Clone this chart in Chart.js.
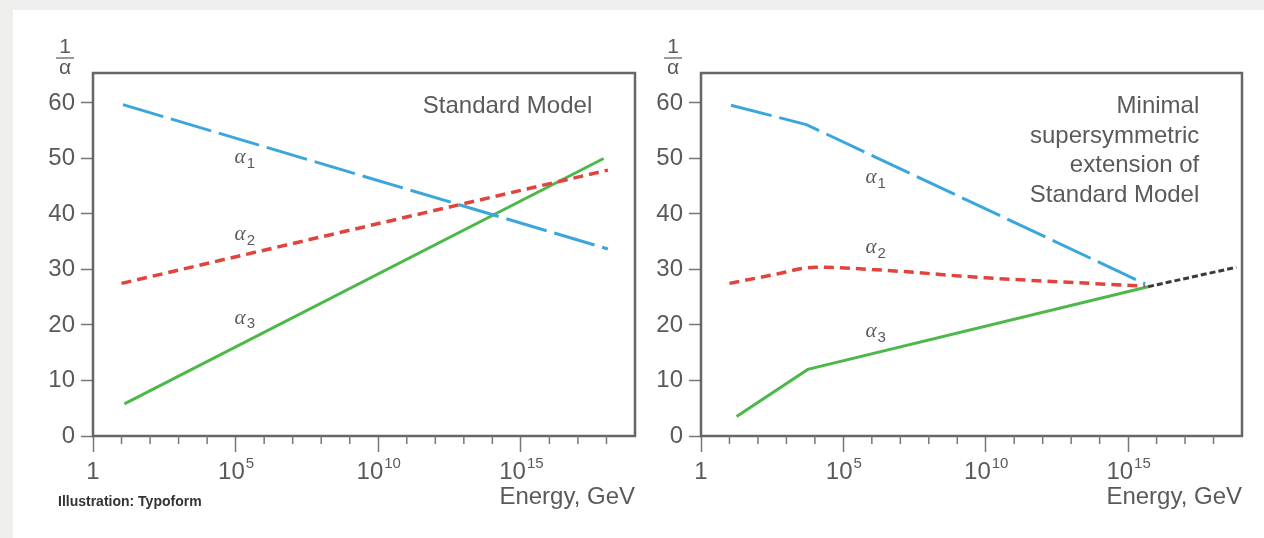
<!DOCTYPE html>
<html>
<head>
<meta charset="utf-8">
<script src="https://cdn.jsdelivr.net/npm/chart.js@4.4.0/dist/chart.umd.min.js"></script>
<style>
  html, body { margin: 0; padding: 0; background: #efefed; }
  #page { position: absolute; left: 13px; top: 10px; width: 1251px; height: 528px; background: #fff; }
  #wrapL { position: absolute; left: 0; top: 0; width: 627px; height: 528px; }
  #wrapR { position: absolute; left: 627px; top: 0; width: 624px; height: 528px; }
</style>
</head>
<body>
<div id="page">
  <div id="wrapL"><canvas id="left"></canvas></div>
  <div id="wrapR"><canvas id="right"></canvas></div>
</div>
<script>
// x values are log10(Energy / GeV), y values are 1/alpha
var tickPowers = [0, 5, 10, 15];
var tickBase = ['1', '10', '10', '10'];
var tickExp = ['', '5', '10', '15'];

// Standard Model
var smA1E = [1.05, 18.05], smA1 = [59.7, 33.7];
var smA2E = [1.0, 18.05],  smA2 = [27.5, 47.9];
var smA3E = [1.1, 17.9],   smA3 = [5.8, 50.0];

// Minimal supersymmetric extension
var ssA1E = [1.05, 3.7, 15.6], ssA1 = [59.6, 56.1, 27.4];
var ssA2E = [1.0, 2.5, 4.0, 6.0, 10.0, 15.6], ssA2 = [27.5, 29.0, 30.4, 30.0, 28.5, 27.0];
var ssA3E = [1.25, 3.75, 15.7], ssA3 = [3.5, 12.0, 26.9];
var ssExtE = [15.7, 18.8], ssExt = [26.9, 30.4];

var seriesNames = ['1', '2', '3'];

var SANS = "'Liberation Sans', Arial, sans-serif";
Chart.defaults.font.family = SANS;
Chart.defaults.color = '#5a5a5a';

function pts(xs, ys) {
  var out = [];
  for (var i = 0; i < xs.length; i++) out.push({ x: xs[i], y: ys[i] });
  return out;
}

function line(data, color, dash, width, smooth) {
  return {
    data: data,
    borderColor: color,
    borderDash: dash,
    borderWidth: width,
    pointRadius: 0,
    fill: false,
    cubicInterpolationMode: smooth ? 'monotone' : 'default',
    tension: 0
  };
}

var blue = '#3ba6dc', red = '#e0443c', green = '#4cb84a', black = '#3a3a3a';

function decor(cfg) {
  return {
    id: 'decor',
    afterDraw: function (chart) {
      var ctx = chart.ctx, a = chart.chartArea;
      var xs = chart.scales.x, ys = chart.scales.y;
      ctx.save();
      // frame
      ctx.strokeStyle = '#666';
      ctx.lineWidth = 2.5;
      ctx.strokeRect(a.left, a.top, a.right - a.left, a.bottom - a.top);
      // minor decade ticks
      ctx.lineWidth = 1.5;
      ctx.strokeStyle = '#777';
      for (var v = 1; v <= 18; v++) {
        if (v % 5 === 0) continue;
        var px = xs.getPixelForValue(v);
        ctx.beginPath();
        ctx.moveTo(px, a.bottom);
        ctx.lineTo(px, a.bottom + 8);
        ctx.stroke();
      }
      ctx.fillStyle = '#5a5a5a';
      ctx.textBaseline = 'middle';
      // x tick labels with superscript powers
      for (var k = 0; k < tickPowers.length; k++) {
        var tx = xs.getPixelForValue(tickPowers[k]);
        ctx.font = '24px ' + SANS;
        var wb = ctx.measureText(tickBase[k]).width;
        ctx.font = '15px ' + SANS;
        var we = ctx.measureText(tickExp[k]).width;
        var sx = tx - (wb + we) / 2;
        ctx.textAlign = 'left';
        ctx.font = '24px ' + SANS;
        ctx.fillText(tickBase[k], sx, a.bottom + 36);
        ctx.font = '15px ' + SANS;
        ctx.fillText(tickExp[k], sx + wb + 1, a.bottom + 28);
      }
      // 1/alpha axis label
      ctx.textAlign = 'center';
      var fx = a.left - 28;
      ctx.font = '21px ' + SANS;
      ctx.fillText('1', fx, a.top - 26);
      ctx.beginPath();
      ctx.moveTo(fx - 9, a.top - 15);
      ctx.lineTo(fx + 9, a.top - 15);
      ctx.stroke();
      ctx.fillText('α', fx, a.top - 5);
      // series labels
      for (var i = 0; i < cfg.labelY.length; i++) {
        var lx = xs.getPixelForValue(cfg.labelX) - 11;
        var ly = ys.getPixelForValue(cfg.labelY[i]);
        ctx.textAlign = 'left';
        ctx.font = "italic 21px 'Liberation Serif', serif";
        ctx.fillText('α', lx, ly);
        var w = ctx.measureText('α').width;
        ctx.font = '15px ' + SANS;
        ctx.fillText(seriesNames[i], lx + w + 1, ly + 6);
      }
      // model caption
      ctx.textAlign = 'right';
      ctx.font = '24px ' + SANS;
      var cx = xs.getPixelForValue(17.5);
      for (var j = 0; j < cfg.caption.length; j++) {
        ctx.fillText(cfg.caption[j], cx, ys.getPixelForValue(59.3) + j * 29.5);
      }
      if (cfg.credit) {
        ctx.textAlign = 'left';
        ctx.fillStyle = '#333';
        ctx.font = 'bold 14px ' + SANS;
        ctx.fillText('Illustration: Typoform', a.left - 35, a.bottom + 66);
      }
      ctx.restore();
    }
  };
}

function makeChart(id, datasets, cfg) {
  return new Chart(document.getElementById(id), {
    type: 'line',
    data: { datasets: datasets },
    options: {
      responsive: true,
      maintainAspectRatio: false,
      animation: false,
      layout: { padding: { top: 63, right: cfg.padRight, bottom: 0, left: 0 } },
      plugins: { legend: { display: false }, tooltip: { enabled: false } },
      scales: {
        x: {
          type: 'linear',
          min: 0,
          max: 19,
          afterFit: function (s) { s.height = 102; },
          afterBuildTicks: function (s) {
            s.ticks = tickPowers.map(function (p) { return { value: p }; });
          },
          ticks: { display: false, autoSkip: false, maxRotation: 0 },
          grid: { drawOnChartArea: false, tickLength: 16, tickColor: '#777', tickWidth: 1.5 },
          border: { display: false },
          title: {
            display: true,
            text: 'Energy, GeV',
            align: 'end',
            color: '#5a5a5a',
            font: { size: 24 },
            padding: { top: 0, bottom: 26 }
          }
        },
        y: {
          min: 0,
          max: 65.4,
          afterFit: function (s) { s.width = cfg.yWidth; },
          ticks: { stepSize: 10, includeBounds: false, padding: 6, font: { size: 24 }, color: '#5a5a5a' },
          grid: { drawOnChartArea: false, tickLength: 12, tickColor: '#777', tickWidth: 1.5 },
          border: { display: false }
        }
      }
    },
    plugins: [decor(cfg)]
  });
}

makeChart('left', [
  line(pts(smA1E, smA1), blue, [42, 8], 3),
  line(pts(smA2E, smA2), red, [10, 6], 3.5),
  line(pts(smA3E, smA3), green, [], 3)
], {
  padRight: 5,
  yWidth: 80,
  labelX: 5.35,
  labelY: [50.2, 36.3, 21.2],
  caption: ['Standard Model'],
  credit: true
});

makeChart('right', [
  line(pts(ssA1E, ssA1), blue, [42, 8], 3),
  line(pts(ssA2E, ssA2), red, [10, 6], 3.5, true),
  line(pts(ssA3E, ssA3), green, [], 3),
  line(pts(ssExtE, ssExt), black, [6, 3], 3)
], {
  padRight: 22,
  yWidth: 61,
  labelX: 6.16,
  labelY: [46.5, 33.9, 18.8],
  caption: ['Minimal', 'supersymmetric', 'extension of', 'Standard Model'],
  credit: false
});
</script>
</body>
</html>
